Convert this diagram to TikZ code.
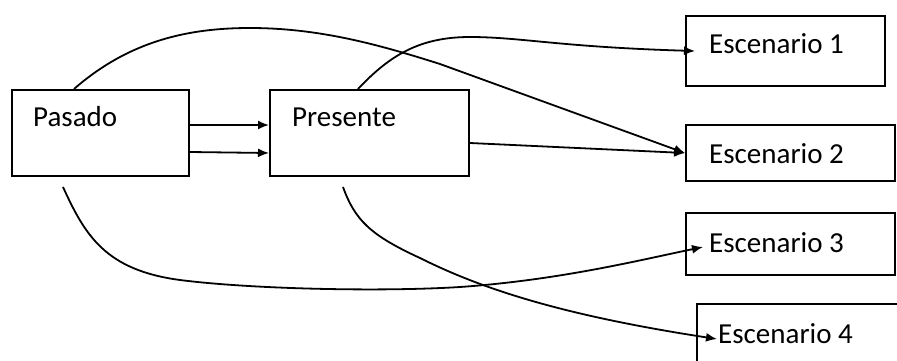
\documentclass[tikz,border=0pt]{standalone}
\usepackage{fontspec}
\setmainfont{Carlito}
\usetikzlibrary{arrows.meta,calc}

\begin{document}
\begin{tikzpicture}[x=1pt, y=-1pt,
    box/.style={draw, line width=2pt, anchor=north west, inner sep=0pt},
    lbl/.style={anchor=base west, inner sep=0pt, font=\fontsize{29}{35}\selectfont},
    flow/.style={line width=1.8pt, -{Latex[length=11pt,width=9pt]}}]
\useasboundingbox (0,0) rectangle (897,360);
\clip (0,0) rectangle (897,360);

% Boxes
\node[box, minimum width=177pt, minimum height=86pt] (pasado) at (11,89) {};
\node[box, minimum width=199pt, minimum height=86pt] (presente) at (269,89) {};
\node[box, minimum width=199pt, minimum height=70pt] (esc1) at (685,15) {};
\node[box, minimum width=209pt, minimum height=56pt] (esc2) at (685,124) {};
\node[box, minimum width=209pt, minimum height=62pt] (esc3) at (685,212) {};
\node[box, minimum width=215pt, minimum height=70pt] (esc4) at (696,303) {};

\node[lbl] (tpasado) at (33,126) {Pasado};
\node[lbl] (tpresente) at (292,126) {Presente};
\node[lbl] (tesc1) at (709,53) {Escenario 1};
\node[lbl] (tesc2) at (709,163) {Escenario 2};
\node[lbl] (tesc3) at (709,252) {Escenario 3};
\node[lbl] (tesc4) at (718,343) {Escenario 4};

% Straight arrows
\draw[flow] ($(pasado.east)+(0,-8)$) -- ($(presente.west)+(0,-8)$);
\draw[flow] ($(pasado.east)+(0,19)$) -- ($(presente.west)+(0,20)$);
\draw[flow] ($(presente.east)+(0,10)$) -- (esc2.west);

% Curved arrows
\draw[flow] ($(pasado.north west)+(63,0)$)
    .. controls (130,40) and (190,28) .. (250,28)
    .. controls (320,28) and (380,45) .. (440,64)
    -- (esc2.west);
\draw[flow] ($(presente.north west)+(89,0)$)
    .. controls (390,55) and (420,37) .. (470,37)
    .. controls (520,37) and (560,47) .. ([xshift=10pt]esc1.west);
\draw[flow] ($(pasado.south west)+(52,10)$)
    .. controls (85,235) and (105,270) .. (180,280)
    .. controls (250,289) and (380,292) .. (460,287)
    .. controls (560,280) and (640,260) .. ([xshift=18pt,yshift=-3pt]esc3.west);
\draw[flow] ($(presente.south west)+(74,10)$)
    .. controls (355,220) and (370,235) .. (420,258)
    .. controls (480,288) and (560,315) .. ([xshift=21pt]esc4.west);
\end{tikzpicture}
\end{document}
